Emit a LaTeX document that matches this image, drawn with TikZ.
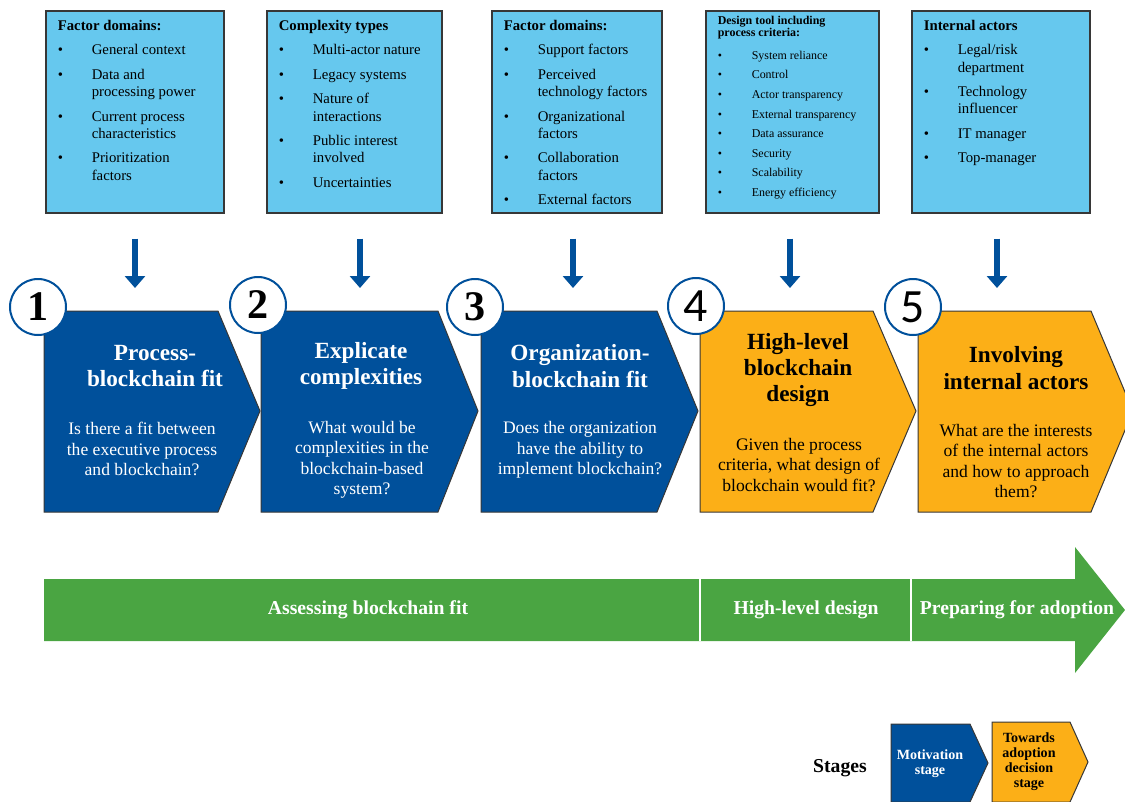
\documentclass[tikz,border=0pt]{standalone}
\usepackage{fontspec}
\setmainfont{Liberation Serif}
\newfontfamily\numfont{Carlito}
\usetikzlibrary{arrows.meta}
\definecolor{boxSky}{RGB}{102,200,238}
\definecolor{stepBlue}{RGB}{0,80,155}
\definecolor{stepOrange}{RGB}{252,175,23}
\definecolor{barGreen}{RGB}{74,165,66}
\definecolor{edgeGray}{RGB}{55,55,55}

\newlength{\bulletw}
\setlength{\bulletw}{8.5mm}
\newcommand{\bitem}[1]{\par\hangindent=\bulletw\hangafter=1\noindent\makebox[\bulletw][l]{\textbullet}#1}
\newcommand{\boxhead}[1]{\fontsize{10.5}{12.4}\selectfont\vspace*{6.5pt}\noindent\textbf{#1}\setlength{\parskip}{5pt}}

\tikzset{
  infobox/.style={draw=edgeGray, line width=0.4mm, fill=boxSky, anchor=north west, inner xsep=3mm, inner ysep=0pt},
  stepblue/.style={fill=stepBlue, draw=edgeGray, line width=0.25mm},
  steporange/.style={fill=stepOrange, draw=edgeGray, line width=0.25mm},
  steptitle/.style={align=center, font=\bfseries\fontsize{16.5}{18.7}\selectfont},
  stepask/.style={align=center, font=\fontsize{12.5}{14.6}\selectfont},
  numcirc/.style={circle, draw=stepBlue, line width=0.5mm, fill=white, minimum size=14mm, inner sep=0pt, font=\bfseries\fontsize{30}{30}\selectfont},
  downarrow/.style={draw=stepBlue, line width=1.5mm, -{Triangle[width=5mm,length=3mm]}},
  phasetext/.style={white, font=\bfseries\fontsize{14}{16}\selectfont},
  legtext/.style={align=center, font=\bfseries\fontsize{10}{10.7}\selectfont}
}

\begin{document}
\begin{tikzpicture}[x=0.25mm, y=-0.25mm]
\useasboundingbox (0,0) rectangle (1125,801);

% factor boxes
\node[infobox] (f1) at (45,10) {\parbox[t][50.5mm][t]{38.5mm}{\boxhead{Factor domains:}
  \bitem{General context}
  \bitem{Data and\\processing power}
  \bitem{Current process\\characteristics}
  \bitem{Prioritization\\factors}}};
\node[infobox] (f2) at (266,10) {\parbox[t][50.5mm][t]{37.75mm}{\boxhead{Complexity types}
  \bitem{Multi-actor nature}
  \bitem{Legacy systems}
  \bitem{Nature of\\interactions}
  \bitem{Public interest\\involved}
  \bitem{Uncertainties}}};
\node[infobox] (f3) at (491,10) {\parbox[t][50.5mm][t]{36.5mm}{\boxhead{Factor domains:}
  \bitem{Support factors}
  \bitem{Perceived\\technology factors}
  \bitem{Organizational\\factors}
  \bitem{Collaboration\\factors}
  \bitem{External factors}}};
\node[infobox] (f4) at (705,10) {\parbox[t][50.5mm][t]{37.25mm}{\fontsize{8.5}{8.7}\selectfont
  \vspace*{3.5pt}\noindent\textbf{Design tool including\\process criteria:}\setlength{\parskip}{5.2pt}\par\vspace{2.6pt}
  \bitem{System reliance}
  \bitem{Control}
  \bitem{Actor transparency}
  \bitem{External transparency}
  \bitem{Data assurance}
  \bitem{Security}
  \bitem{Scalability}
  \bitem{Energy efficiency}}};
\node[infobox] (f5) at (911,10) {\parbox[t][50.5mm][t]{38.5mm}{\boxhead{Internal actors}
  \bitem{Legal/risk\\department}
  \bitem{Technology\\influencer}
  \bitem{IT manager}
  \bitem{Top-manager}}};

% steps
\draw[stepblue] (44,311) -- (218,311) -- (260,411) -- (218,512) -- (44,512) -- cycle;
\draw[stepblue] (261,311) -- (438,311) -- (478,411) -- (438,512) -- (261,512) -- cycle;
\draw[stepblue] (481,311) -- (657,311) -- (698,411) -- (657,512) -- (481,512) -- cycle;
\draw[steporange] (700,311) -- (873,311) -- (916,411) -- (873,512) -- (700,512) -- cycle;
\draw[steporange] (918,311) -- (1091,311) -- (1133,411) -- (1091,512) -- (918,512) -- cycle;

\coordinate (c1) at (135,311);
\coordinate (c2) at (360,311);
\coordinate (c3) at (573,311);
\coordinate (c4) at (790,311);
\coordinate (c5) at (997,311);
\foreach \i in {1,...,5}
  \draw[downarrow, shorten <=6.25mm, shorten >=5.75mm] (f\i.south -| c\i) -- (c\i);

\node[steptitle, white] (t1) at (155,366) {Process-\\blockchain fit};
\node[stepask, white] (q1) at (142,449) {Is there a fit between\\the executive process\\and blockchain?};
\node[steptitle, white] (t2) at (361,366) {Explicate\\complexities};
\node[stepask, white] (q2) at (362,460) {What would be\\complexities in the\\blockchain-based\\system?};
\node[steptitle, white] (t3) at (580,366) {Organization-\\blockchain fit};
\node[stepask, white] (q3) at (580,450) {Does the organization\\have the ability to\\implement blockchain?};
\node[steptitle] (t4) at (798,370) {High-level\\blockchain\\design};
\node[stepask] (q4) at (799,465) {Given the process\\criteria, what design of\\blockchain would fit?};
\node[steptitle] (t5) at (1016,368) {Involving\\internal actors};
\node[stepask] (q5) at (1016,461) {What are the interests\\of the internal actors\\and how to approach\\them?};

\node[numcirc] (n1) at (38,307) {1};
\node[numcirc] (n2) at (258,305) {2};
\node[numcirc] (n3) at (475,307) {3};
\node[numcirc, font=\numfont\fontsize{34}{34}\selectfont] (n4) at (696,306) {4};
\node[numcirc, font=\numfont\fontsize{34}{34}\selectfont] (n5) at (913,307) {5};

% phases
\fill[barGreen] (44,579) -- (1075,579) -- (1075,547) -- (1125,610) -- (1075,673) -- (1075,641) -- (44,641) -- cycle;
\draw[white, line width=0.3mm] (700,579) -- (700,641);
\draw[white, line width=0.3mm] (911,579) -- (911,641);
\node[phasetext] (p1) at (368,610) {Assessing blockchain fit};
\node[phasetext] (p2) at (806,610) {High-level design};
\node[phasetext] (p3) at (1017,610) {Preparing for adoption};

% legend
\node[font=\bfseries\fontsize{14}{16}\selectfont] (lg) at (840,768) {Stages};
\draw[stepblue] (891,724) -- (970,724) -- (988,763) -- (970,802) -- (891,802) -- cycle;
\draw[steporange] (992,722) -- (1070,722) -- (1088,762) -- (1070,802) -- (992,802) -- cycle;
\node[legtext, white] (m1) at (930,764) {Motivation\\stage};
\node[legtext] (m2) at (1029,762) {Towards\\adoption\\decision\\stage};
\end{tikzpicture}
\end{document}
